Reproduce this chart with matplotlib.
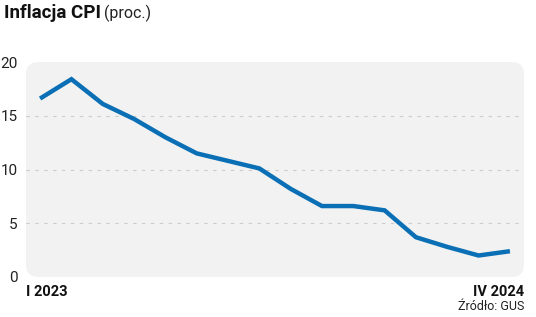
import matplotlib
matplotlib.use("Agg")
import matplotlib.pyplot as plt
from matplotlib.patches import FancyBboxPatch

months = list(range(16))
cpi = [16.6, 18.4, 16.1, 14.7, 13.0, 11.5, 10.8, 10.1, 8.2, 6.6, 6.6, 6.2, 3.7, 2.8, 2.0, 2.4]
yticks = [0, 5, 10, 15, 20]
start_label = "I 2023"
end_label = "IV 2024"

plt.rcParams['font.family'] = ['Roboto', 'DejaVu Sans']

fig = plt.figure(figsize=(5.36, 3.17), dpi=100)
ax = fig.add_axes([26/536, 40/317, 498/536, 215/317])
ax.set_xlim(-0.45, 15.45)
ax.set_ylim(0, 20)
for s in ax.spines.values():
    s.set_visible(False)
ax.patch.set_visible(False)
bg = FancyBboxPatch((0, 0), 1, 1, boxstyle="round,pad=0,rounding_size=0.025",
                    transform=ax.transAxes, facecolor="#f2f2f2", edgecolor="none",
                    zorder=0, mutation_aspect=498/215)
ax.add_patch(bg)
for y in [5, 10, 15]:
    ax.axhline(y, color="#cccccc", lw=0.8, ls=(0, (3, 5)), zorder=1)
ax.plot(months, cpi, color="#0a6fb5", lw=3.2, solid_capstyle="butt", solid_joinstyle="miter", zorder=3)
ax.set_yticks(yticks)
ax.set_yticklabels([str(v) for v in yticks], fontsize=11, color="#222222")
ax.tick_params(axis="y", length=0, pad=6)
ax.set_xticks([])
ax.text(0.0, -0.035, start_label, transform=ax.transAxes, ha="left", va="top",
        fontsize=10.5, fontweight="bold", color="#111111")
ax.text(1.0, -0.035, end_label, transform=ax.transAxes, ha="right", va="top",
        fontsize=10.5, fontweight="bold", color="#111111")
fig.text(524/536, 1 - 307/317, "Źródło: GUS", ha="right", va="center", fontsize=9, color="#222222")
fig.text(4/536, 1 - 13/317, "Inflacja CPI", ha="left", va="center", fontsize=13.5, fontweight="bold", color="#111111")
fig.text(104/536, 1 - 13/317, "(proc.)", ha="left", va="center", fontsize=11.5, color="#222222")
fig.savefig("out.png", dpi=100)
